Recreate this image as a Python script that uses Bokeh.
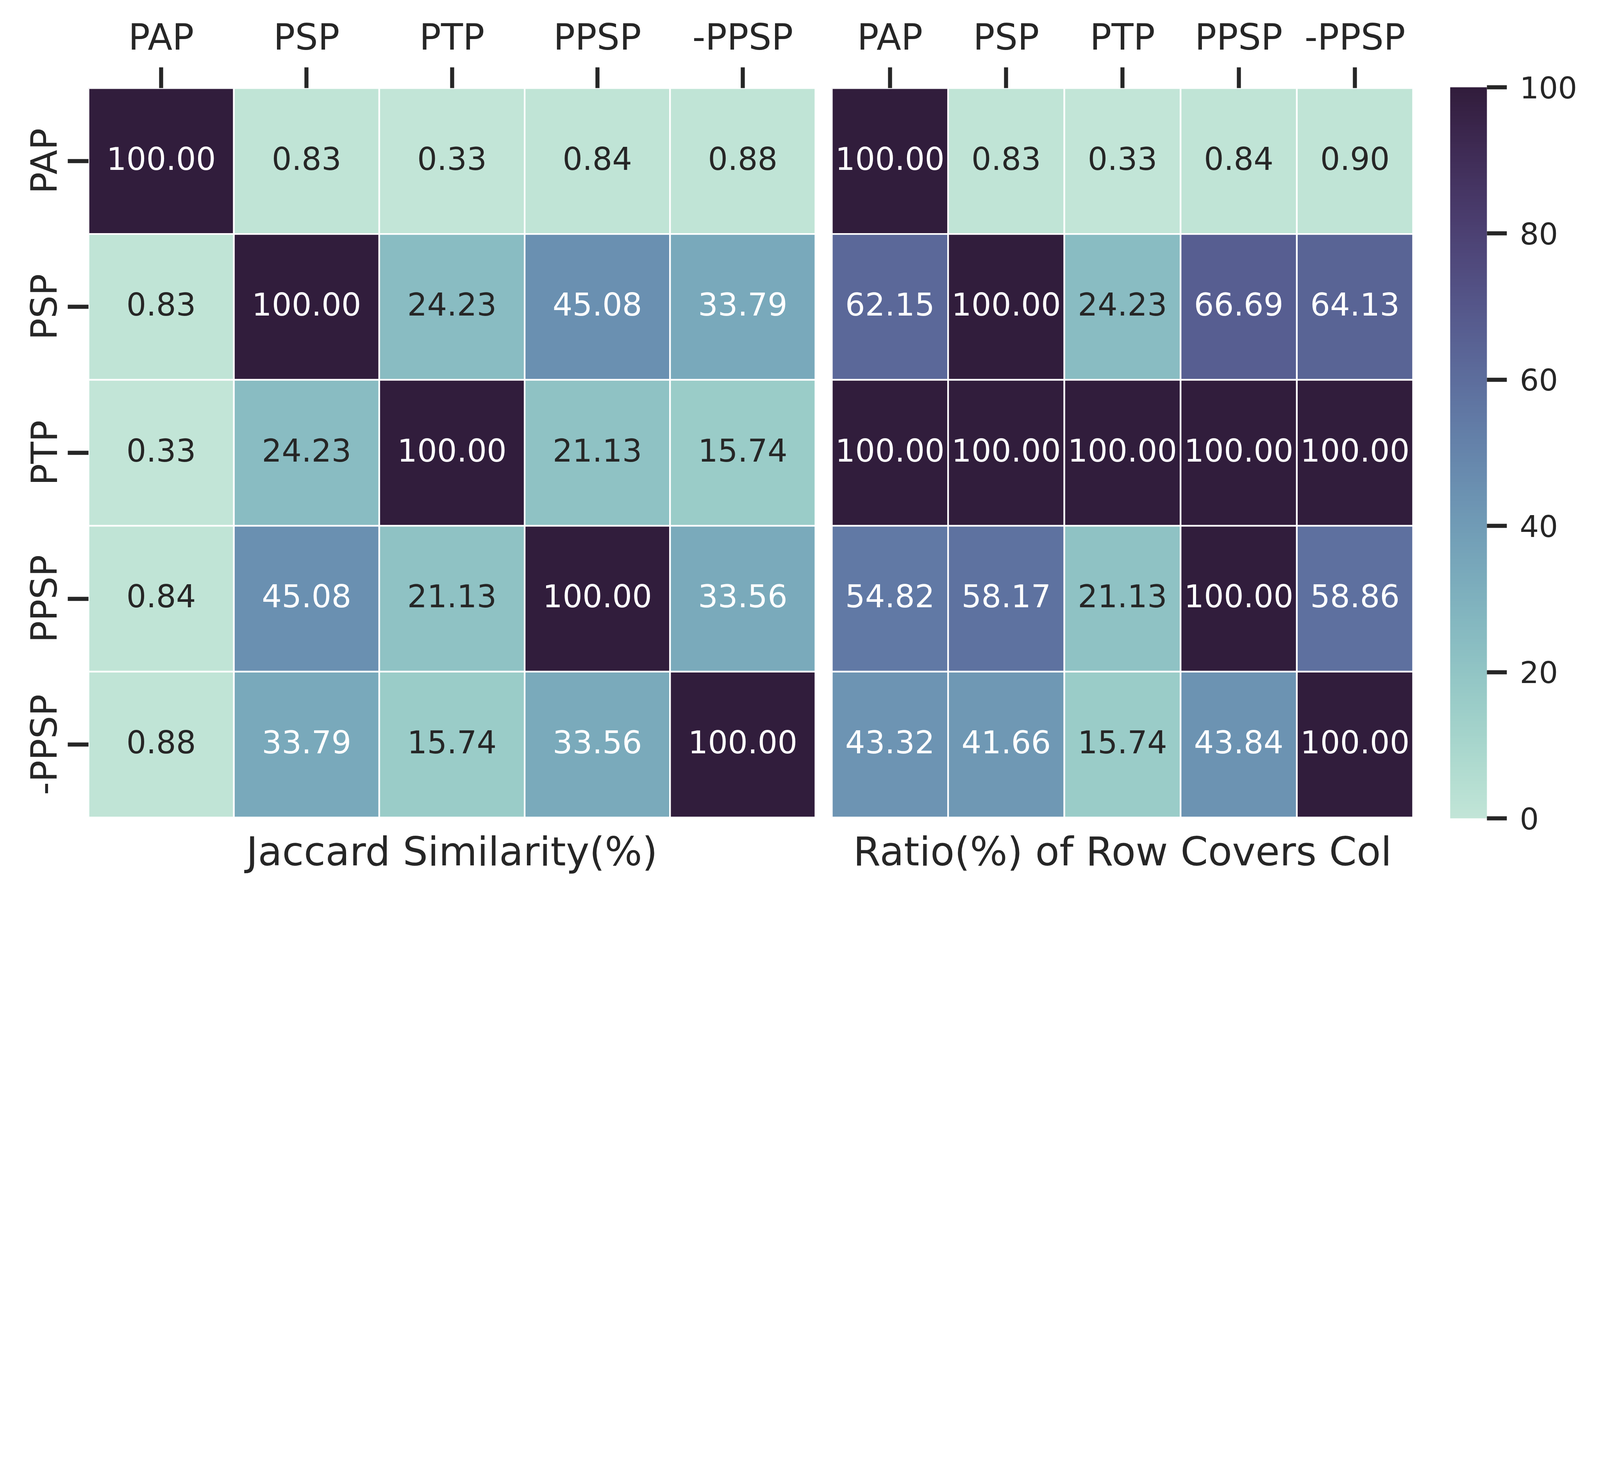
import numpy as np
from bokeh.plotting import figure
from bokeh.models import (ColumnDataSource, FactorRange, Range1d, LinearColorMapper, ColorBar,
                          FixedTicker)
from bokeh.layouts import row, column
from bokeh.transform import transform
from bokeh.core.properties import value
from bokeh.embed import file_html
from bokeh.resources import INLINE

# ---------------- data ----------------
labels = ["PAP", "PSP", "PTP", "PPSP", "-PPSP"]

jaccard_pap = [100.00, 0.83, 0.33, 0.84, 0.88]
jaccard_psp = [0.83, 100.00, 24.23, 45.08, 33.79]
jaccard_ptp = [0.33, 24.23, 100.00, 21.13, 15.74]
jaccard_ppsp = [0.84, 45.08, 21.13, 100.00, 33.56]
jaccard_nppsp = [0.88, 33.79, 15.74, 33.56, 100.00]

ratio_pap = [100.00, 0.83, 0.33, 0.84, 0.90]
ratio_psp = [62.15, 100.00, 24.23, 66.69, 64.13]
ratio_ptp = [100.00, 100.00, 100.00, 100.00, 100.00]
ratio_ppsp = [54.82, 58.17, 21.13, 100.00, 58.86]
ratio_nppsp = [43.32, 41.66, 15.74, 43.84, 100.00]

jaccard = [jaccard_pap, jaccard_psp, jaccard_ptp, jaccard_ppsp, jaccard_nppsp]
ratio = [ratio_pap, ratio_psp, ratio_ptp, ratio_ppsp, ratio_nppsp]

left_title = "Jaccard Similarity(%)"
right_title = "Ratio(%) of Row Covers Col"
cbar_ticks = [0, 20, 40, 60, 80, 100]
vmin, vmax = 0, 100

# ---------------- style / geometry ----------------
FONT = "DejaVu Sans"
TXT = "#262626"
K = 4096 / 6739          # reference pixels -> page pixels


def S(v):                # size
    return v * K


def L(v):                # page position inside the 8px margin
    return int(round(v * K - 8))


def fs(v):
    # integer px sizes (a size such as "100.9px" is misread as weight 100 by the SVG backend)
    n = int(round(v * K))
    if str(n)[1:3] == "00":
        n += 1
    return "%dpx" % n


def cubehelix(n, start=.5, rot=-.5, gamma=1.0, hue=.8, light=.85, dark=.15):
    x = np.linspace(light, dark, n)
    xg = x ** gamma
    a = hue * xg * (1 - xg) / 2
    phi = 2 * np.pi * (start / 3 + rot * x)
    r = xg + a * (-0.14861 * np.cos(phi) + 1.78277 * np.sin(phi))
    g = xg + a * (-0.29227 * np.cos(phi) - 0.90649 * np.sin(phi))
    b = xg + a * (1.97294 * np.cos(phi))
    return np.clip(np.stack([r, g, b], axis=1), 0, 1)


RGB = cubehelix(256)
palette = ["#%02x%02x%02x" % tuple(int(round(c * 255)) for c in col) for col in RGB]
mapper = LinearColorMapper(palette=palette, low=vmin, high=vmax)


def text_color_for(v):
    idx = int(np.clip((v - vmin) / (vmax - vmin) * 256, 0, 255))
    rgb = RGB[idx]
    lin = np.where(rgb <= .03928, rgb / 12.92, ((rgb + .055) / 1.055) ** 2.4)
    lum = lin.dot([.2126, .7152, .0722])
    return TXT if lum > .408 else "white"


H = 2280                      # total layout height
TOP = L(384)                  # top of heatmap frames
HM_H = L(3457)                # height of heatmap figures (frame bottom = figure bottom)
TB = H - HM_H                 # height of the strip holding the panel titles
TITLE_BASE = L(3600) - HM_H   # title baseline, measured from top of the strip

y_range = FactorRange(factors=labels[::-1])


def heatmap(matrix, show_y, width, border_left, x_range):
    xs, ys, vals, txt, tcol = [], [], [], [], []
    for i, rl in enumerate(labels):
        for j, cl in enumerate(labels):
            v = matrix[i][j]
            xs.append(cl)
            ys.append(rl)
            vals.append(v)
            txt.append("%.2f" % v)
            tcol.append(text_color_for(v))
    src = ColumnDataSource(dict(col=xs, row=ys, value=vals, label=txt, tcolor=tcol))
    p = figure(width=width, height=HM_H, x_range=x_range, y_range=y_range,
               x_axis_location="above", y_axis_location="left" if show_y else None,
               output_backend="svg", toolbar_location=None,
               min_border_left=border_left, min_border_right=0,
               min_border_top=TOP, min_border_bottom=0)
    p.rect(x="col", y="row", width=1, height=1, source=src,
           fill_color=transform("value", mapper), line_color="white", line_width=S(7))
    p.text(x="col", y="row", text="label", source=src, text_align="center",
           text_baseline="middle", text_font=value(FONT), text_font_size=fs(132),
           text_color="tcolor", y_offset=-S(12))
    p.outline_line_color = None
    p.grid.visible = False
    for ax in p.axis:
        ax.axis_line_color = None
        ax.major_tick_line_color = TXT
        ax.major_tick_line_width = S(17)
        ax.major_tick_in = 0
        ax.major_tick_out = int(round(S(87)))
        ax.minor_tick_line_color = None
        ax.major_label_text_font = FONT
        ax.major_label_text_font_size = fs(152)
        ax.major_label_text_color = TXT
    p.xaxis.major_label_standoff = int(round(S(40)))
    if show_y:
        p.yaxis.major_label_orientation = "vertical"
        p.yaxis.major_label_standoff = int(round(S(10)))
    return p


def title_strip(title, width, border_left, x_range):
    t = figure(width=width, height=TB, x_range=x_range, y_range=Range1d(TB, 0),
               x_axis_location=None, y_axis_location=None,
               output_backend="svg", toolbar_location=None,
               min_border_left=border_left, min_border_right=0,
               min_border_top=0, min_border_bottom=0)
    t.text(x=[labels[2]], y=[TITLE_BASE], text=[title], text_align="center",
           text_baseline="alphabetic", text_font=value(FONT), text_font_size=fs(166),
           text_color=TXT)
    t.outline_line_color = None
    t.grid.visible = False
    return t


x1_left, x1_right = L(385), L(3447)
x2_left, x2_right = L(3516), L(5964)
cb_left, cb_right = L(6121), L(6275)
cb_top, cb_bot = L(380), L(3460)
TOTAL_W = 4080

xr1 = FactorRange(factors=labels)
xr2 = FactorRange(factors=labels)
w1 = x1_right
w2 = x2_right - x1_right

p1 = heatmap(jaccard, True, w1, x1_left, xr1)
t1 = title_strip(left_title, w1, x1_left, xr1)
p2 = heatmap(ratio, False, w2, x2_left - x1_right, xr2)
t2 = title_strip(right_title, w2, x2_left - x1_right, xr2)

w3 = TOTAL_W - x2_right
p3 = figure(width=w3, height=H, min_border_left=cb_left - x2_right,
            min_border_right=w3 - (cb_left - x2_right) - (cb_right - cb_left),
            min_border_top=cb_top, min_border_bottom=H - cb_bot,
            x_axis_location=None, y_axis_location=None,
            output_backend="svg", toolbar_location=None)
p3.outline_line_color = None
p3.grid.visible = False
cb = ColorBar(color_mapper=mapper, ticker=FixedTicker(ticks=cbar_ticks),
              location="top_left", width=cb_right - cb_left, height=cb_bot - cb_top,
              margin=0, padding=0,
              major_tick_in=0, major_tick_out=int(round(S(84))), major_tick_line_color=TXT,
              major_tick_line_width=S(17), minor_tick_line_color=None,
              bar_line_color=None, border_line_color=None, background_fill_color=None,
              label_standoff=int(round(S(54))), major_label_text_font=FONT,
              major_label_text_font_size=fs(126), major_label_text_color=TXT)
p3.add_layout(cb, "center")

layout = row(column(p1, t1), column(p2, t2), p3)
open("out.html", "w").write(file_html(layout, INLINE))
